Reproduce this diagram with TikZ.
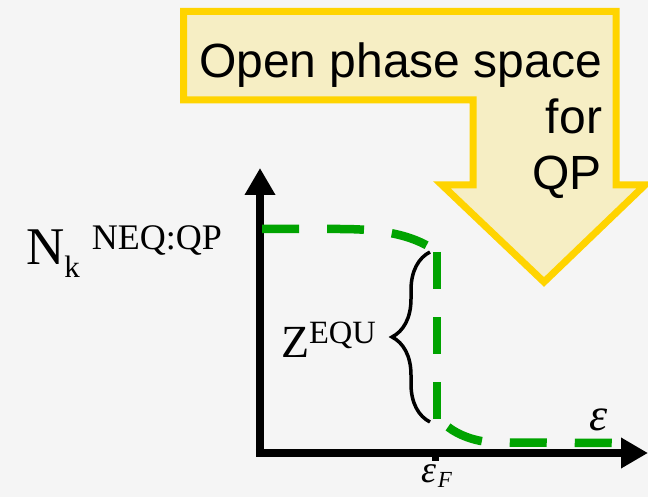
\documentclass[tikz,border=0pt]{standalone}
\usepackage{fontspec}
\setmainfont{Liberation Serif}
\newfontfamily\calloutfont{Liberation Sans}
\usetikzlibrary{arrows.meta, decorations.pathreplacing}
\definecolor{bgGray}{RGB}{245,245,245}
\definecolor{curveGreen}{RGB}{0,163,0}
\definecolor{calloutFill}{RGB}{246,238,196}
\definecolor{calloutEdge}{RGB}{255,212,0}

\begin{document}
\begin{tikzpicture}[x=1pt, y=-1pt,
  axis/.style={line width=8.5pt, -{Triangle[length=27pt, width=29pt]}},
  occupation/.style={curveGreen, line width=8.5pt, dash pattern=on 37pt off 28pt},
  callout/.style={draw=calloutEdge, fill=calloutFill, line width=7pt, miter limit=20},
  symbol/.style={inner sep=0pt, outer sep=0pt}
]
  % Canvas
  \useasboundingbox (0,0) rectangle (648,497);
  \fill[bgGray] (0,0) rectangle (648,497);

  % Arrow-shaped callout at the top right
  \draw[callout] (183.5,11.5) -- (616,11.5) -- (616,185) -- (645,185) -- (544,282)
    -- (442,185) -- (473,185) -- (473,100) -- (183.5,100) -- cycle;
  \node[symbol, anchor=base east, align=right,
    font=\calloutfont\fontsize{48}{56}\selectfont] (callouttext) at (602,190)
    {Open phase space\\for\\QP};

  % Axes
  \coordinate (origin) at (260,453);
  \coordinate (ytop) at (260,168);
  \coordinate (xend) at (648,453);
  \coordinate (fermi) at (435,453);
  \draw[axis] ([yshift=4.25pt]origin) -- (ytop);
  \draw[axis] ([xshift=-4.25pt]origin) -- (xend);
  \draw[line width=7pt] (fermi) -- ++(0,8);

  % Distribution function (three pieces)
  \draw[occupation] (262,229) -- (340,229) .. controls (385,229) and (410,236) .. (428,246);
  \draw[occupation] (437,252) -- (437,420);
  \draw[occupation] (448,427) .. controls (460,436) and (475,441) .. (492,442.5) -- (615,443);

  % Brace over the jump
  \coordinate (jumpbot) at (430,422);
  \coordinate (jumptop) at (430,252);
  \draw[line width=3.5pt, decorate, decoration={brace, amplitude=38pt}]
    (jumpbot) -- (jumptop);

  % Labels
  \node[symbol, anchor=base west] (nlabel) at (26,265)
    {\fontsize{53}{53}\selectfont N\raisebox{-13pt}{\fontsize{31}{31}\selectfont k}%
     \hspace{12pt}\raisebox{15pt}{\fontsize{36}{36}\selectfont NEQ:QP}};
  \node[symbol, anchor=base west] (zlabel) at (281,357)
    {\fontsize{46}{46}\selectfont Z\raisebox{14pt}{\fontsize{32.5}{32.5}\selectfont EQU}};
  \node[symbol, anchor=base] (elabel) at (599,430)
    {\fontsize{46}{46}\selectfont\itshape ε};
  \node[symbol, anchor=base west] (eflabel) at (421,482)
    {\fontsize{38}{38}\selectfont\itshape ε\hspace{2pt}\raisebox{-5pt}{\fontsize{23}{23}\selectfont F}};
\end{tikzpicture}
\end{document}
